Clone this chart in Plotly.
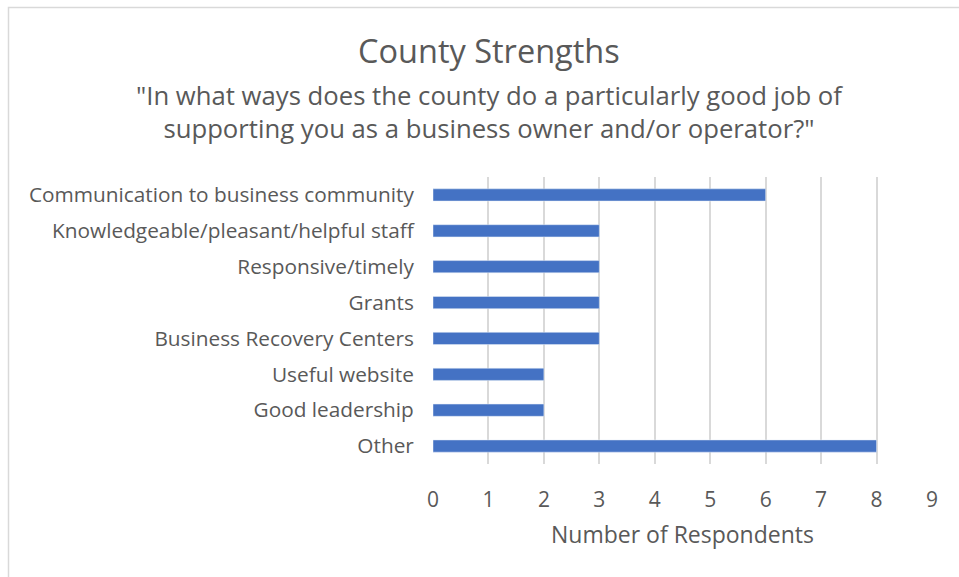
import plotly.graph_objects as go

categories = [
    "Communication to business community",
    "Knowledgeable/pleasant/helpful staff",
    "Responsive/timely",
    "Grants",
    "Business Recovery Centers",
    "Useful website",
    "Good leadership",
    "Other",
]
respondents = [6, 3, 3, 3, 3, 2, 2, 8]
x_ticks = list(range(0, 10))

W, H = 959, 577
ML, MR, MT, MB = 433, 27, 177, 113
PW, PH = W - ML - MR, H - MT - MB

def px_to_paper_x(px):
    return (px - ML) / PW

def px_to_paper_y(py):
    return (H - MB - py) / PH

FONT = "Open Sans"
GREY = "#595959"

fig = go.Figure(
    go.Bar(
        x=respondents,
        y=categories,
        orientation="h",
        marker=dict(color="#4472c4"),
        width=0.34,
    )
)

fig.update_layout(
    width=W,
    height=H,
    margin=dict(l=ML, r=MR, t=MT, b=MB),
    paper_bgcolor="white",
    plot_bgcolor="white",
    showlegend=False,
    font=dict(family=FONT, color=GREY),
)

fig.update_xaxes(
    range=[0, 9],
    tickvals=x_ticks,
    showgrid=True,
    gridcolor="#d9d9d9",
    gridwidth=1.5,
    zeroline=False,
    tickfont=dict(size=21, color=GREY, family=FONT),
    ticks="outside",
    ticklen=17,
    tickcolor="rgba(0,0,0,0)",
    title=dict(text="Number of Respondents", font=dict(size=23, color=GREY, family=FONT), standoff=14),
    automargin=False,
)
fig.update_yaxes(
    categoryorder="array",
    categoryarray=categories[::-1],
    showgrid=False,
    zeroline=False,
    tickfont=dict(size=20.8, color=GREY, family=FONT),
    ticks="outside",
    ticklen=14,
    tickcolor="rgba(0,0,0,0)",
    automargin=False,
)

# Chart title and question text
fig.add_annotation(
    text="County Strengths",
    xref="paper", yref="paper",
    x=px_to_paper_x(489), y=px_to_paper_y(50),
    showarrow=False, xanchor="center", yanchor="middle",
    font=dict(size=32.5, color=GREY, family=FONT),
)
fig.add_annotation(
    text="\"In what ways does the county do a particularly good job of<br>supporting you as a business owner and/or operator?\"",
    xref="paper", yref="paper",
    x=px_to_paper_x(489), y=px_to_paper_y(112),
    showarrow=False, xanchor="center", yanchor="middle",
    align="center",
    font=dict(size=25.7, color=GREY, family=FONT),
)

# Outer chart border
fig.add_shape(
    type="rect",
    xref="paper", yref="paper",
    x0=px_to_paper_x(8.5), x1=px_to_paper_x(990),
    y0=px_to_paper_y(620), y1=px_to_paper_y(7.5),
    line=dict(color="#d9d9d9", width=1.5),
    fillcolor="rgba(0,0,0,0)",
    layer="below",
)

fig.write_html("out.html")
